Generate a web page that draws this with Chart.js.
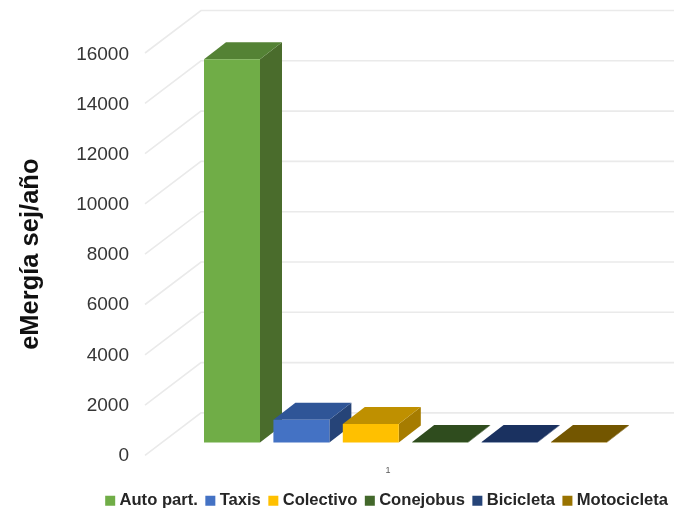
<!DOCTYPE html>
<html>
<head>
<meta charset="utf-8">
<script src="https://cdn.jsdelivr.net/npm/chart.js@4"></script>
<style>
  html, body { margin: 0; padding: 0; background: #fff; }
  canvas { display: block; filter: blur(0.5px); }
</style>
</head>
<body>
<canvas id="grafico" width="674" height="510"></canvas>
<script>
const categorias = ['1']
const series = ['Auto part.', 'Taxis', 'Colectivo', 'Conejobus', 'Bicicleta', 'Motocicleta']
const valores = [15230, 900, 730, 20, 20, 20]
const marcas = [0, 2000, 4000, 6000, 8000, 10000, 12000, 14000, 16000]

const frente = ['#70AD47', '#4472C4', '#FFC000', '#43682B', '#264478', '#997300']
const techo = ['#548235', '#2F5597', '#BF9000', '#2F4C1E', '#1A3160', '#735600']
const lado = ['#4A6C2C', '#264478', '#A67C00', '#2F4C1E', '#1A3160', '#735600']

// profundidad de las barras y del piso (perspectiva de Excel)
const prof = { dx: 22, dy: -17 }
const piso = { x: 145, dx: 56, dy: -42.5, offset: 13 }

const cara = (c, color, pts) => {
  c.fillStyle = color
  c.beginPath()
  pts.forEach((p, i) => i ? c.lineTo(p[0], p[1]) : c.moveTo(p[0], p[1]))
  c.closePath()
  c.fill()
}

const tresD = {
  id: 'tresD',
  beforeDatasetsDraw(chart) {
    const c = chart.ctx
    const yb = chart.scales.yBarras

    // lineas de la rejilla: diagonal del piso y pared del fondo
    c.save()
    c.strokeStyle = '#EAEAEA'
    c.lineWidth = 1.6
    marcas.forEach(v => {
      const y = yb.getPixelForValue(v) + piso.offset
      c.beginPath()
      c.moveTo(piso.x, y)
      c.lineTo(piso.x + piso.dx, y + piso.dy)
      c.lineTo(chart.width, y + piso.dy)
      c.stroke()
    })

    // caras de arriba y del costado, de izquierda a derecha
    series.forEach((s, i) => {
      const b = chart.getDatasetMeta(i).data[0]
      const r = b.x + b.width / 2
      const l = b.x - b.width / 2
      cara(c, lado[i], [[r, b.y], [r + prof.dx, b.y + prof.dy], [r + prof.dx, b.base + prof.dy], [r, b.base]])
      cara(c, techo[i], [[l, b.y], [l + prof.dx, b.y + prof.dy], [r + prof.dx, b.y + prof.dy], [r, b.y]])
    })
    c.restore()
  }
}

new Chart(document.getElementById('grafico'), {
  type: 'bar',
  data: {
    labels: categorias,
    datasets: series.map((s, i) => ({
      label: s,
      data: [valores[i]],
      backgroundColor: frente[i],
      yAxisID: 'yBarras',
      clip: false
    }))
  },
  plugins: [tresD],
  options: {
    responsive: false,
    animation: false,
    categoryPercentage: 416.4 / 537,
    barPercentage: 56 / 69.4,
    layout: { padding: { top: 53, right: -5.5, bottom: -9, left: 0 } },
    plugins: {
      tooltip: { enabled: false },
      legend: {
        position: 'bottom',
        align: 'end',
        labels: {
          usePointStyle: true,
          pointStyle: 'rect',
          boxWidth: 2,
          boxHeight: 10,
          padding: 11.5,
          color: '#262626',
          font: { family: 'Liberation Sans', size: 16.6, weight: 'bold' }
        }
      }
    },
    scales: {
      x: {
        grid: { display: false, drawTicks: false },
        border: { display: false },
        afterFit: s => { s.height = 25.5 },
        ticks: {
          labelOffset: -17.5,
          padding: 10,
          color: '#595959',
          font: { family: 'Liberation Sans', size: 9 }
        }
      },
      yBarras: {
        display: false,
        min: -517,
        max: 15483
      },
      y: {
        position: 'left',
        min: 0,
        max: 16080,
        grid: { display: false, drawTicks: false },
        border: { display: false },
        afterBuildTicks: s => { s.ticks = marcas.map(v => ({ value: v })) },
        afterFit: s => { s.width = 137 },
        ticks: {
          padding: 8,
          color: '#363636',
          font: { family: 'Liberation Sans', size: 19 },
          callback: v => String(v)
        },
        title: {
          display: true,
          text: 'eMergía sej/año',
          color: '#111111',
          padding: { top: 15.5, bottom: 0 },
          font: { family: 'Liberation Sans', size: 25.5, weight: 'bold' }
        }
      }
    }
  }
})
</script>
</body>
</html>
